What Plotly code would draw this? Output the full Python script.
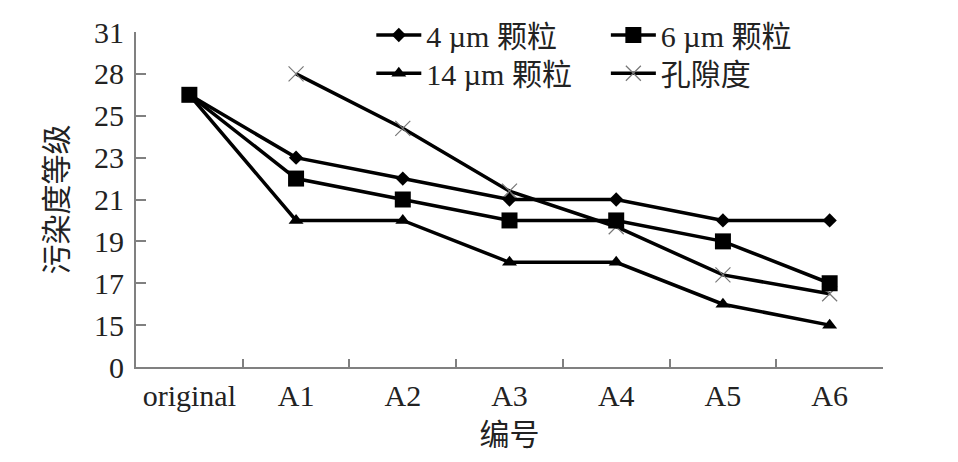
import numpy as np
import plotly.graph_objects as go

# categories and grades
categories = ["original", "A1", "A2", "A3", "A4", "A5", "A6"]
grade_levels = [0, 15, 17, 19, 21, 23, 25, 28, 31]  # evenly spaced tick labels

grade_4um = [26.5, 23, 22, 21, 21, 20, 20]
grade_6um = [26.5, 22, 21, 20, 20, 19, 17]
grade_14um = [26.5, 20, 20, 18, 18, 16, 15]
porosity = [None, 28, 24.4, 21.4, 19.7, 17.4, 16.5]

level_pos = np.arange(len(grade_levels))


def to_axis(values):
    # the y axis is drawn with equally spaced grade levels
    return [None if v is None else float(np.interp(v, grade_levels, level_pos)) for v in values]


serif = "Liberation Serif, Noto Sans CJK SC, serif"

# name, values, marker, legend id, legend x, legend y (paper)
series = [
    ("孔隙度", porosity, dict(symbol="x-thin-open", size=15, color="#777777",
                            line=dict(width=1.2, color="#777777")), "legend4", 0.629, 0.877),
    ("4 µm 颗粒", grade_4um, dict(symbol="diamond", size=11, color="black"), "legend", 0.315, 0.991),
    ("14 µm 颗粒", grade_14um, dict(symbol="triangle-up", size=13, color="black"), "legend3", 0.315, 0.877),
    ("6 µm 颗粒", grade_6um, dict(symbol="square", size=16, color="black"), "legend2", 0.629, 0.991),
]

fig = go.Figure()
legends = {}
for name, vals, marker, leg, lx, ly in series:
    fig.add_trace(go.Scatter(
        x=categories,
        y=to_axis(vals),
        name=name,
        mode="lines+markers",
        line=dict(color="black", width=3.5),
        marker=marker,
        legend=leg,
        showlegend=True,
    ))
    legends[leg] = dict(
        x=lx, y=ly, xanchor="left", yanchor="middle",
        bgcolor="rgba(0,0,0,0)", font=dict(size=30), itemwidth=45,
    )

fig.update_layout(
    width=950,
    height=454,
    margin=dict(l=128, r=75, t=24, b=95, autoexpand=False),
    showlegend=True,
    paper_bgcolor="white",
    plot_bgcolor="white",
    font=dict(family=serif, size=30, color="#222222"),
    xaxis=dict(
        type="category",
        range=[-0.5, len(categories) - 0.5],
        showline=True,
        linecolor="#808080",
        linewidth=2,
        ticks="inside",
        tickson="boundaries",
        ticklen=8,
        tickcolor="#808080",
        tickwidth=2,
        showgrid=False,
        zeroline=False,
        ticklabelstandoff=1,
        title=dict(text="编号", font=dict(size=30), standoff=13),
    ),
    yaxis=dict(
        range=[0, len(grade_levels) - 1],
        tickmode="array",
        tickvals=list(level_pos),
        ticktext=[str(v) for v in grade_levels],
        showline=True,
        linecolor="#808080",
        linewidth=2,
        ticks="inside",
        ticklen=10,
        tickcolor="#808080",
        tickwidth=2,
        showgrid=False,
        zeroline=False,
        ticklabelstandoff=4,
        title=dict(text="污染度等级", font=dict(size=30), standoff=18),
    ),
    **legends,
)

fig.write_html("out.html")
